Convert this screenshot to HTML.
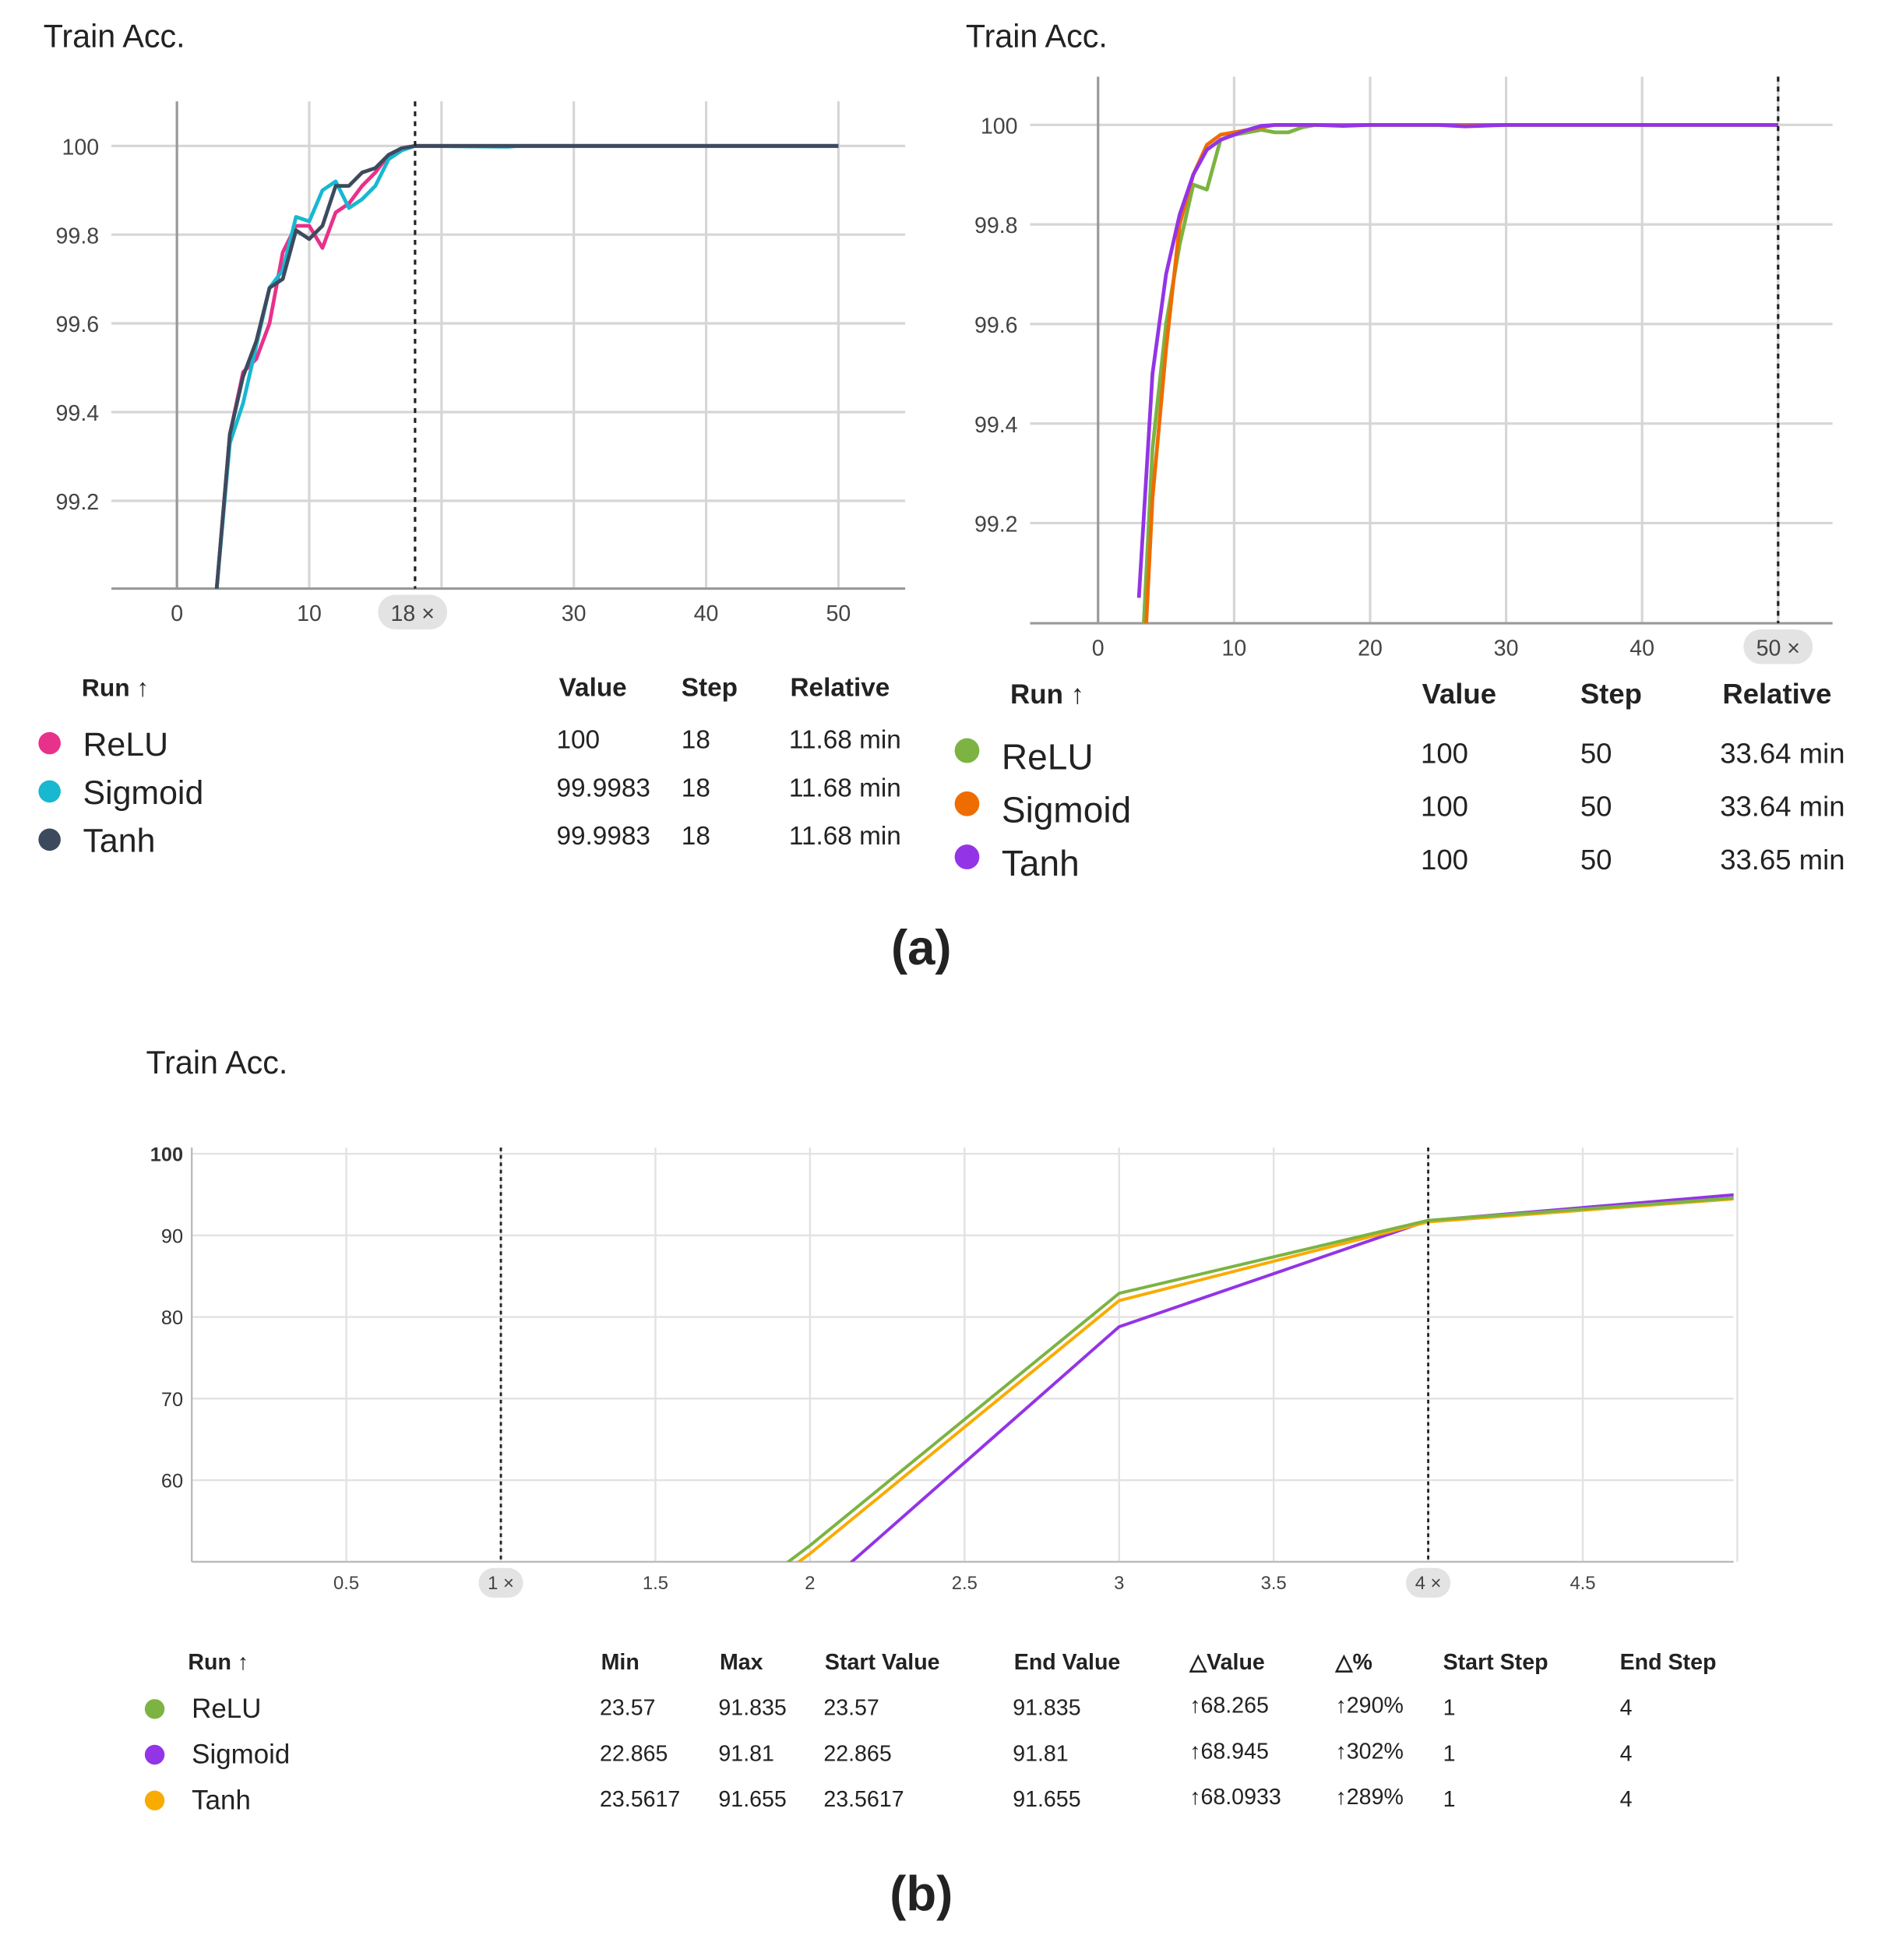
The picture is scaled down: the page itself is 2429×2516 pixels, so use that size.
<!DOCTYPE html>
<html><head><meta charset="utf-8"><style>
html,body{margin:0;padding:0;background:#fff}
svg{display:block}
text{font-family:"Liberation Sans",sans-serif}
</style></head><body>
<svg id="root" width="2429" height="2516" viewBox="0 0 1530 1585" xmlns="http://www.w3.org/2000/svg">
<defs>
<clipPath id="clipA"><rect x="90" y="60" width="642" height="416"/></clipPath>
<clipPath id="clipB"><rect x="833" y="50" width="649" height="454"/></clipPath>
<clipPath id="clipC"><rect x="155" y="920" width="1247" height="343"/></clipPath>
</defs>
<g id="gA"></g>
<g id="gB"></g>
<g id="gC"></g>
<g id="texts"></g>
</svg>
<script>
// ---- Chart A-left data ----
const aSteps = [3,4,5,6,7,8,9,10,11,12,13,14,15,16,17,18,25,26,50];
const aRelu = [99.0,99.35,99.49,99.52,99.6,99.76,99.82,99.82,99.77,99.85,99.87,99.91,99.94,99.98,99.995,100,100,100,100];
const aSigmoid = [99.0,99.33,99.42,99.55,99.68,99.72,99.84,99.83,99.9,99.92,99.86,99.88,99.91,99.97,99.99,100,99.998,100,100];
const aTanh = [99.0,99.35,99.48,99.56,99.68,99.7,99.81,99.79,99.82,99.91,99.91,99.94,99.95,99.98,99.995,100,100,100,100];
const aXTicks = [0,10,30,40,50];
const aYTicks = [100,99.8,99.6,99.4,99.2];
// ---- Chart A-right data ----
const bSteps = [3,4,5,6,7,8,9,10,11,12,13,14,15,16,18,20,25,27,30,45,50];
const bRelu = [98.8,99.35,99.6,99.76,99.88,99.87,99.97,99.98,99.985,99.99,99.985,99.985,99.995,100,100,100,100,100,100,100,100];
const bSigmoid = [98.7,99.25,99.55,99.8,99.9,99.96,99.98,99.985,99.99,99.995,100,100,100,100,100,100,100,100,100,100,100];
const bTanh = [99.05,99.5,99.7,99.82,99.9,99.95,99.97,99.98,99.99,99.998,100,100,100,100,99.998,100,100,99.997,100,100,100];
const bXTicks = [0,10,20,30,40];
const bYTicks = [100,99.8,99.6,99.4,99.2];
// ---- Chart B data ----
const cSteps = [1,2,3,4,5];
const cRelu = [23.57,52,82.9,91.835,94.6];
const cSigmoid = [22.865,45.5,78.8,91.81,95.0];
const cTanh = [23.5617,51,82.0,91.655,94.5];
const cXTicks = ["0.5","1.5","2","2.5","3","3.5","4.5"];
const cYTicks = [100,90,80,70,60];

const NS="http://www.w3.org/2000/svg";
function mk(parent,tag,attrs,txt){const e=document.createElementNS(NS,tag);for(const k in attrs)e.setAttribute(k,attrs[k]);if(txt!==undefined)e.textContent=txt;parent.appendChild(e);return e;}
function poly(g,xs,ys,sx,sy,color,clip,w){const d=xs.map((x,i)=>(i?'L':'M')+sx(x).toFixed(1)+','+sy(ys[i]).toFixed(1)).join('');
 const p=mk(g,'path',{d:d,fill:'none',stroke:color,'stroke-width':w||3,'stroke-linejoin':'round','clip-path':'url(#'+clip+')'});return p;}

// Chart A-left
(function(){const g=document.getElementById('gA');
const sx=v=>143+v*10.7, sy=v=>118+(100-v)*358.75;
aYTicks.forEach(v=>{const l=mk(g,'line',{x1:90,x2:732,y1:sy(v),y2:sy(v),stroke:'#d6d6d6','stroke-width':2});

const t=mk(g,'text',{x:80,y:sy(v)+7,'text-anchor':'end','font-size':18,fill:'#444'},v);
});
[10,20,30,40,50].forEach(v=>{const l=mk(g,'line',{x1:sx(v),x2:sx(v),y1:82,y2:476,stroke:'#d6d6d6','stroke-width':2});
});
mk(g,'line',{x1:sx(0),x2:sx(0),y1:82,y2:476,stroke:'#999','stroke-width':2});
mk(g,'line',{x1:90,x2:732,y1:476,y2:476,stroke:'#999','stroke-width':2});
aXTicks.forEach(v=>{const t=mk(g,'text',{x:sx(v),y:502,'text-anchor':'middle','font-size':18,fill:'#444'},v);
});
[[aRelu,'#e8318a','line-relu'],[aSigmoid,'#17b8d0','line-sigmoid'],[aTanh,'#3d4a5e','line-tanh']].forEach(s=>{
const p=poly(g,aSteps,s[0],sx,sy,s[1],'clipA');});
mk(g,'line',{x1:sx(18),x2:sx(18),y1:82,y2:476,stroke:'#222','stroke-width':2,'stroke-dasharray':'4,4'});
mk(g,'rect',{x:sx(18)-30,y:481,width:56,height:28,rx:14,fill:'#e3e3e3'});
mk(g,'text',{x:sx(18)-2,y:502,'text-anchor':'middle','font-size':18,fill:'#444'},'18 ×');
})();

// Chart A-right
(function(){const g=document.getElementById('gB');
const sx=v=>888+v*11, sy=v=>101+(100-v)*402.5;
bYTicks.forEach(v=>{const l=mk(g,'line',{x1:833,x2:1482,y1:sy(v),y2:sy(v),stroke:'#d6d6d6','stroke-width':2});

const t=mk(g,'text',{x:823,y:sy(v)+7,'text-anchor':'end','font-size':18,fill:'#444'},v);
});
[10,20,30,40,50].forEach(v=>{const l=mk(g,'line',{x1:sx(v),x2:sx(v),y1:62,y2:504,stroke:'#d6d6d6','stroke-width':2});
});
mk(g,'line',{x1:sx(0),x2:sx(0),y1:62,y2:504,stroke:'#999','stroke-width':2});
mk(g,'line',{x1:833,x2:1482,y1:504,y2:504,stroke:'#999','stroke-width':2});
bXTicks.forEach(v=>{const t=mk(g,'text',{x:sx(v),y:530,'text-anchor':'middle','font-size':18,fill:'#444'},v);
});
[[bRelu,'#7cb342','line-relu'],[bSigmoid,'#ef6c00','line-sigmoid'],[bTanh,'#9334e6','line-tanh']].forEach(s=>{
const p=poly(g,bSteps,s[0],sx,sy,s[1],'clipB');});
mk(g,'line',{x1:sx(50),x2:sx(50),y1:62,y2:504,stroke:'#222','stroke-width':2,'stroke-dasharray':'4,4'});
mk(g,'rect',{x:sx(50)-28,y:509,width:56,height:28,rx:14,fill:'#e3e3e3'});
mk(g,'text',{x:sx(50),y:530,'text-anchor':'middle','font-size':18,fill:'#444'},'50 ×');
})();

// Chart B
(function(){const g=document.getElementById('gC');
const sx=v=>155+v*250, sy=v=>933+(100-v)*6.6;
cYTicks.forEach(v=>{const l=mk(g,'line',{x1:155,x2:1402,y1:sy(v),y2:sy(v),stroke:'#e2e2e2','stroke-width':1.5});

const t=mk(g,'text',{x:148,y:sy(v)+6,'text-anchor':'end','font-size':16,fill:'#333','font-weight':v===100?'bold':'normal'},v);
});
[0.5,1,1.5,2,2.5,3,3.5,4,4.5,5].forEach(v=>{const l=mk(g,'line',{x1:sx(v),x2:sx(v),y1:928,y2:1263,stroke:'#e2e2e2','stroke-width':1.5});
});
mk(g,'line',{x1:155,x2:155,y1:928,y2:1263,stroke:'#bbb','stroke-width':1.5});
mk(g,'line',{x1:155,x2:1402,y1:1263,y2:1263,stroke:'#bbb','stroke-width':1.5});
cXTicks.forEach(v=>{const t=mk(g,'text',{x:sx(+v),y:1285,'text-anchor':'middle','font-size':15,fill:'#444'},v);
});
[[cSigmoid,'#9334e6','line-sigmoid'],[cTanh,'#f9ab00','line-tanh'],[cRelu,'#7cb342','line-relu']].forEach(s=>{
const p=poly(g,cSteps,s[0],sx,sy,s[1],'clipC',2.5);});
[1,4].forEach(v=>{mk(g,'line',{x1:sx(v),x2:sx(v),y1:928,y2:1263,stroke:'#222','stroke-width':1.8,'stroke-dasharray':'3,3'});
mk(g,'rect',{x:sx(v)-18,y:1268,width:36,height:24,rx:12,fill:'#e3e3e3'});
mk(g,'text',{x:sx(v),y:1285,'text-anchor':'middle','font-size':15,fill:'#444'},v+' ×');});
})();

// Texts & tables
(function(){const g=document.getElementById('texts');
function T(x,y,s,sz,opt){opt=opt||{};const t=mk(g,'text',{x:x,y:y,'font-size':sz,fill:opt.fill||'#222','font-weight':opt.b?'bold':'normal','text-anchor':opt.a||'start','font-family':opt.f||'"Liberation Sans",sans-serif'},s);return t;}
let t;
t=T(35,38,'Train Acc.',26);
t=T(781,38,'Train Acc.',26);
t=T(118,868,'Train Acc.',26);
// left table
T(66,563,'Run ↑',20,{b:1});T(452,563,'Value',21,{b:1});T(551,563,'Step',21,{b:1});T(639,563,'Relative',21,{b:1});
[['ReLU','#e8318a','100'],['Sigmoid','#17b8d0','99.9983'],['Tanh','#3d4a5e','99.9983']].forEach((r,i)=>{const y=611+i*39;
const c=mk(g,'circle',{cx:40,cy:y-10,r:9,fill:r[1]});
T(67,y,r[0],27);T(450,y-6,r[2],21);T(551,y-6,'18',21);T(638,y-6,'11.68 min',21);});
// right table
T(817,569,'Run ↑',22,{b:1});T(1150,569,'Value',23,{b:1});T(1278,569,'Step',23,{b:1});T(1393,569,'Relative',23,{b:1});
[['ReLU','#7cb342','33.64 min'],['Sigmoid','#ef6c00','33.64 min'],['Tanh','#9334e6','33.65 min']].forEach((r,i)=>{const y=622+i*43;
const c=mk(g,'circle',{cx:782,cy:y-15,r:10,fill:r[1]});
T(810,y,r[0],29);T(1149,y-5,'100',23);T(1278,y-5,'50',23);T(1391,y-5,r[2],23);});
T(745,780,'(a)',40,{a:'middle',b:1,f:'"Liberation Serif",serif'});
// bottom table
const hx=[152,486,582,667,820,962,1080,1167,1310];
['Run ↑','Min','Max','Start Value','End Value','△Value','△%','Start Step','End Step'].forEach((h,i)=>T(hx[i],1350,h,18,{b:1}));
[['ReLU','#7cb342','23.57','91.835','23.57','91.835','↑68.265','↑290%'],
 ['Sigmoid','#9334e6','22.865','91.81','22.865','91.81','↑68.945','↑302%'],
 ['Tanh','#f9ab00','23.5617','91.655','23.5617','91.655','↑68.0933','↑289%']].forEach((r,i)=>{const y=1389+i*37;
const c=mk(g,'circle',{cx:125,cy:y-7,r:8,fill:r[1]});
T(155,y,r[0],22);T(485,y-2,r[2],18);T(581,y-2,r[3],18);T(666,y-2,r[4],18);T(819,y-2,r[5],18);T(962,y-4,r[6],18);T(1080,y-4,r[7],18);T(1167,y-2,'1',18);T(1310,y-2,'4',18);});
T(745,1545,'(b)',40,{a:'middle',b:1,f:'"Liberation Serif",serif'});
})();
</script>
</body></html>
